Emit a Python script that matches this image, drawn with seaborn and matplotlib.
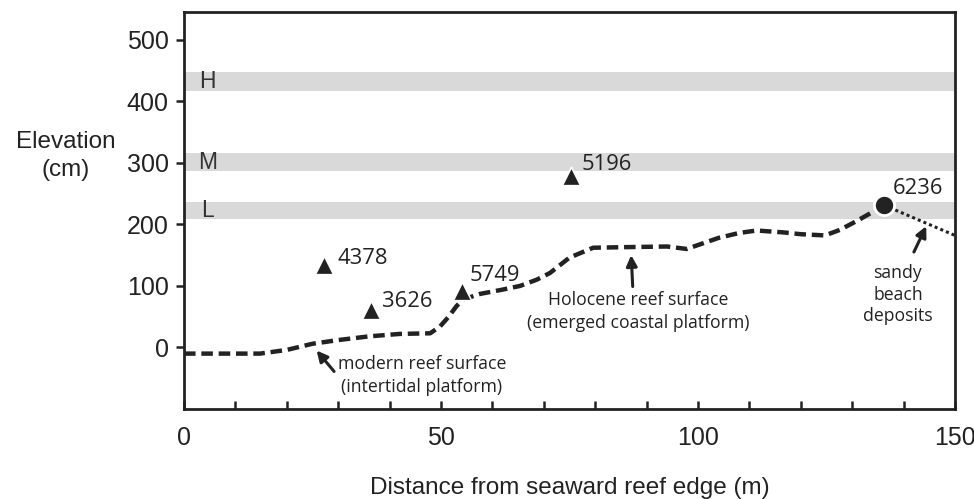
import matplotlib
matplotlib.use("Agg")
import matplotlib.pyplot as plt
from matplotlib.ticker import MultipleLocator
import seaborn as sns
import pandas as pd

# --- data ---
reef_x = [0, 8, 14.8, 20, 25, 30, 36, 42, 47.9, 49.8, 51.5, 53, 54.3, 57.6, 62, 65.4, 68.6, 71.2, 75,
          79.6, 86, 94, 97.8, 104, 108, 111.4, 116.5, 120, 124.7, 127.6, 131, 134.8, 136.2]
reef_y = [-10, -10, -10, -4, 6, 12, 18, 22, 23, 34, 50, 67, 78, 87, 94, 100, 110, 121, 146,
          162, 163, 164, 160, 178, 186, 190, 187, 184, 182, 191, 206, 224, 231]
beach_x = [136.2, 150]
beach_y = [231, 182]

tri_x = [27.2, 36.4, 54.0, 75.2]
tri_y = [134, 61, 91, 278]
tri_labels = ["4378", "3626", "5749", "5196"]
circ_x = [136.2]
circ_y = [231]
circ_labels = ["6236"]

band_names = ["H", "M", "L"]
band_lo = [417, 286, 208]
band_hi = [447, 316, 237]

x_ticks = [0, 50, 100, 150]
y_ticks = [0, 100, 200, 300, 400, 500]

dark = "#222222"
sans = ["Liberation Sans", "DejaVu Sans"]
note = ["Open Sans", "DejaVu Sans"]

sns.set_theme(style="white")
plt.rcParams["font.family"] = sans

fig = plt.figure(figsize=(9.74, 4.99), dpi=100)
ax = fig.add_axes([184 / 974, 1 - 409 / 499, (955 - 184) / 974, (409 - 12) / 499])

for lo, hi, nm in zip(band_lo, band_hi, band_names):
    ax.axhspan(lo, hi, color="#d9d9d9", lw=0, zorder=0)
    ax.text(4.5, (lo + hi) / 2, nm, ha="center", va="center", fontsize=16.5,
            color="#333333", family=sans)

sns.lineplot(x=reef_x, y=reef_y, ax=ax, color=dark, lw=3.2, estimator=None,
             sort=False, dashes=False, linestyle=(0, (2.6, 1.3)), zorder=3)
sns.lineplot(x=beach_x, y=beach_y, ax=ax, color=dark, lw=2.2, estimator=None,
             sort=False, linestyle=(0, (1, 1)), zorder=3)

tri_df = pd.DataFrame({"x": tri_x, "y": tri_y})
sns.scatterplot(data=tri_df, x="x", y="y", ax=ax, marker="^", s=175, color=dark,
                edgecolor="white", linewidth=1.2, zorder=4)
sns.scatterplot(x=circ_x, y=circ_y, ax=ax, marker="o", s=210, color=dark,
                edgecolor="white", linewidth=2, zorder=5)

lab_off = [(2.6, 10), (2.1, 13), (1.6, 26), (2.2, 19)]
for x, y, t, (dx, dy) in zip(tri_x, tri_y, tri_labels, lab_off):
    ax.text(x + dx, y + dy, t, fontsize=15.8, ha="left", va="center", color=dark, family=note)
for x, y, t in zip(circ_x, circ_y, circ_labels):
    ax.text(x + 1.7, y + 27, t, fontsize=15.8, ha="left", va="center", color=dark, family=note)

arrow = dict(arrowstyle="-|>", lw=2.2, color=dark, mutation_scale=16, shrinkA=0, shrinkB=0)
ax.annotate("", xy=(25.8, -5), xytext=(29.2, -39), arrowprops=arrow, zorder=6)
ax.annotate("", xy=(87.0, 150), xytext=(87.3, 99), arrowprops=arrow, zorder=6)
ax.annotate("", xy=(144.4, 197), xytext=(142.0, 155), arrowprops=arrow, zorder=6)

ax.text(46.3, -45, "modern reef surface\n(intertidal platform)", ha="center", va="center",
        fontsize=12.7, color=dark, family=note, linespacing=1.35)
ax.text(88.3, 59, "Holocene reef surface\n(emerged coastal platform)", ha="center", va="center",
        fontsize=12.7, color=dark, family=note, linespacing=1.35)
ax.text(138.9, 86, "sandy\nbeach\ndeposits", ha="center", va="center",
        fontsize=12.7, color=dark, family=note, linespacing=1.28)

ax.set_xlim(0, 150)
ax.set_ylim(-100, 545)
ax.set_xticks(x_ticks)
ax.set_xticklabels([str(v) for v in x_ticks])
ax.xaxis.set_minor_locator(MultipleLocator(10))
ax.set_yticks(y_ticks)
ax.set_yticklabels([str(v) for v in y_ticks])
ax.tick_params(axis="x", which="both", direction="in", length=6, width=1.8, color=dark,
               labelsize=18, pad=12, labelcolor=dark, bottom=True)
ax.tick_params(axis="y", which="both", direction="out", length=6, width=1.8, color=dark,
               labelsize=18, pad=5, labelcolor=dark, left=True)
for sp in ax.spines.values():
    sp.set_linewidth(2)
    sp.set_color(dark)
    sp.set_visible(True)

ax.set_xlabel("Distance from seaward reef edge (m)", fontsize=17.5, color=dark, labelpad=20)
ax.set_ylabel("")
fig.text(66 / 974, 1 - 156 / 499, "Elevation\n(cm)", ha="center", va="center",
         fontsize=17.5, color=dark, linespacing=1.3)

fig.savefig("out.png", dpi=100)
